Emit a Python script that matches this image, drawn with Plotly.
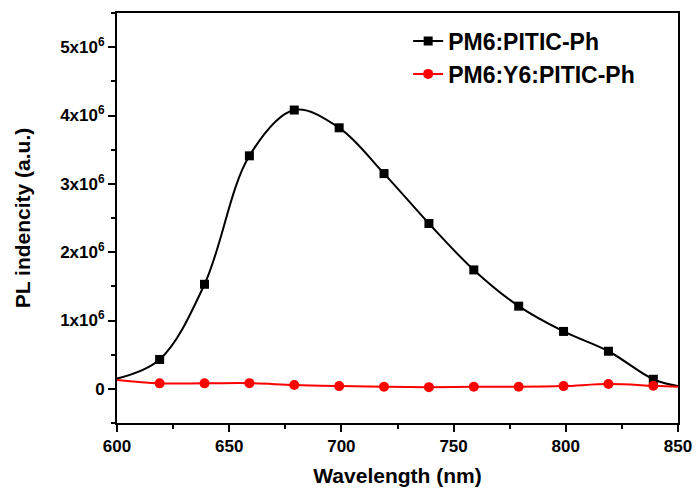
import plotly.graph_objects as go

# Photoluminescence spectra (wavelength in nm, intensity in a.u.)
wl_curve = [600, 619, 639, 659, 679, 699, 719, 739, 759, 779, 799, 819, 839, 850]
pm6_pitic = [0.15e6, 0.43e6, 1.53e6, 3.41e6, 4.08e6, 3.82e6, 3.15e6, 2.42e6,
             1.74e6, 1.21e6, 0.84e6, 0.55e6, 0.14e6, 0.04e6]
pm6_y6_pitic = [0.13e6, 0.08e6, 0.08e6, 0.083e6, 0.055e6, 0.04e6, 0.03e6, 0.025e6,
                0.03e6, 0.03e6, 0.04e6, 0.07e6, 0.045e6, 0.03e6]

y_tick_vals = [0, 1e6, 2e6, 3e6, 4e6, 5e6]
y_tick_text = ["0", "1x10<sup>6</sup>", "2x10<sup>6</sup>", "3x10<sup>6</sup>",
               "4x10<sup>6</sup>", "5x10<sup>6</sup>"]

series = [
    ("PM6:PITIC-Ph", pm6_pitic, "black", "square"),
    ("PM6:Y6:PITIC-Ph", pm6_y6_pitic, "#ff0000", "circle"),
]

fig = go.Figure()
for name, vals, color, symbol in series:
    msize = 10 if symbol == "circle" else 9
    # smooth spectrum line over the full range
    fig.add_trace(go.Scatter(
        x=wl_curve, y=vals, mode="lines",
        line=dict(color=color, width=2, shape="spline", smoothing=1),
        showlegend=False, hoverinfo="skip",
    ))
    # sampled points drawn as markers (interior points only)
    fig.add_trace(go.Scatter(
        x=wl_curve[1:-1], y=vals[1:-1], mode="markers",
        marker=dict(color=color, symbol=symbol, size=msize),
        showlegend=False, name=name,
    ))
    # legend entry combining line and marker
    fig.add_trace(go.Scatter(
        x=[None], y=[None], mode="lines+markers", name=name,
        line=dict(color=color, width=2),
        marker=dict(color=color, symbol=symbol, size=msize),
    ))

font_family = "Liberation Sans, Arial, sans-serif"
tick_font = dict(family=font_family, size=17, color="black", weight="bold")
title_font = dict(family=font_family, size=21, color="black")

fig.update_layout(
    width=697, height=493,
    margin=dict(l=117, r=19, t=13, b=70),
    plot_bgcolor="white", paper_bgcolor="white",
    font=dict(family=font_family, color="black"),
    showlegend=True,
    legend=dict(
        x=0.519, y=0.984, xanchor="left", yanchor="top",
        bgcolor="rgba(0,0,0,0)", borderwidth=0,
        font=dict(family=font_family, size=23, color="black", weight="bold"),
        tracegroupgap=0,
    ),
    xaxis=dict(
        range=[600, 850], tickvals=[600, 650, 700, 750, 800, 850],
        ticks="outside", ticklen=7, tickwidth=2, tickcolor="black",
        minor=dict(dtick=25, ticks="outside", ticklen=4, tickwidth=2, tickcolor="black"),
        showline=True, linewidth=2, linecolor="black", mirror=True,
        showgrid=False, zeroline=False, automargin=False,
        tickfont=tick_font,
        title=dict(text="<b>Wavelength (nm)</b>", font=title_font, standoff=13),
    ),
    yaxis=dict(
        range=[-0.5e6, 5.5e6], tickvals=y_tick_vals, ticktext=y_tick_text,
        ticks="outside", ticklen=7, tickwidth=2, tickcolor="black",
        minor=dict(dtick=0.5e6, tick0=0, ticks="outside", ticklen=4, tickwidth=2, tickcolor="black"),
        showline=True, linewidth=2, linecolor="black", mirror=True,
        showgrid=False, zeroline=False, automargin=False,
        tickfont=tick_font,
        title=dict(text="<b>PL indencity (a.u.)</b>", font=title_font, standoff=24),
    ),
)

fig.write_html("out.html")
